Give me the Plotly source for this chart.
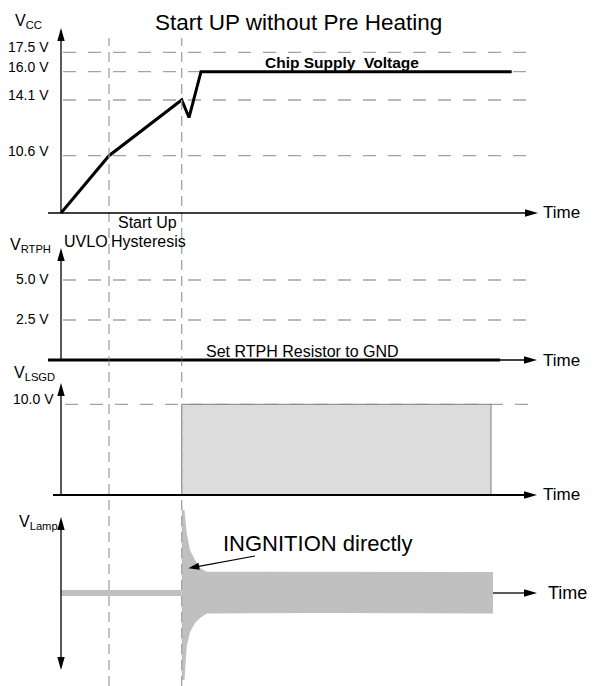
import numpy as np
import plotly.graph_objects as go

# The page body has an 8 px margin, so the figure is drawn 8 px smaller and
# all reference pixel positions are shifted by that margin.
PAGE_W, PAGE_H = 595, 686
OFF = 8
W, H = PAGE_W - OFF, PAGE_H - OFF
FONT = "Arial, Liberation Sans, sans-serif"

# ---------------- data ----------------
t_uvlo_end = 48.0       # end of UVLO phase (time, a.u.)
t_ignition = 120.7      # end of start-up hysteresis / ignition

vcc_t = [0, 48, 120.7, 128, 140, 450.7]
vcc_v = [0.0, 10.6, 14.1, 13.0, 16.0, 16.0]
vcc_levels = [10.6, 14.1, 16.0, 17.5]
vcc_level_labels = ["10.6 V", "14.1 V", "16.0 V", "17.5 V"]

rtph_t = [0, 439]
rtph_v = [0.0, 0.0]
rtph_levels = [2.5, 5.0]
rtph_level_labels = ["2.5 V", "5.0 V"]

lsgd_t = [0, 120.7, 120.7, 430, 430]
lsgd_v = [0.0, 0.0, 10.0, 10.0, 0.0]
lsgd_levels = [10.0]
lsgd_level_labels = ["10.0 V"]

lamp_pre_t = [0, 120.7]
lamp_pre_v = [0.0, 0.0]
lamp_env_t = [120.7, 123.5, 125.7, 129, 134, 139, 145.7, 260, 432]
lamp_env_upper = [83, 83, 60, 43, 33, 25, 21.3, 21, 21]
lamp_env_lower = [-87, -87, -54, -39, -30, -25, -20.5, -20, -20.5]

# schematic (non-linear) VCC axis scale: volts -> axis position
VCC_SCALE_V = [0.0, 10.6, 14.1, 16.0, 17.5]
VCC_SCALE_POS = [0.0, 57.3, 113.0, 141.3, 160.7]


def vcc_pos(v):
    return np.interp(v, VCC_SCALE_V, VCC_SCALE_POS)


def pxx(x):
    return (x - OFF) / W


def pxy(y):
    return 1 - (y - OFF) / H


GRAY_DASH = "#a3a3a3"
LAMP_GRAY = "#c0c0c0"

fig = go.Figure()

# ---------------- traces ----------------
fig.add_trace(go.Scatter(x=lsgd_t, y=lsgd_v, xaxis="x", yaxis="y3", mode="lines",
                         fill="toself", fillcolor="#dcdcdc",
                         line=dict(color="#7f7f7f", width=1), hoverinfo="skip"))
fig.add_trace(go.Scatter(x=vcc_t, y=vcc_pos(vcc_v), xaxis="x", yaxis="y", mode="lines",
                         line=dict(color="black", width=3), hoverinfo="skip"))
fig.add_trace(go.Scatter(x=rtph_t, y=rtph_v, xaxis="x", yaxis="y2", mode="lines",
                         line=dict(color="black", width=3), hoverinfo="skip"))
fig.add_trace(go.Scatter(x=lamp_pre_t, y=lamp_pre_v, xaxis="x", yaxis="y4", mode="lines",
                         line=dict(color=LAMP_GRAY, width=6), hoverinfo="skip"))
fig.add_trace(go.Scatter(x=lamp_env_t + lamp_env_t[::-1],
                         y=lamp_env_upper + lamp_env_lower[::-1],
                         xaxis="x", yaxis="y4", mode="lines", fill="toself",
                         fillcolor=LAMP_GRAY, line=dict(width=0, color=LAMP_GRAY),
                         hoverinfo="skip"))

shapes = []


def hdash(yref, y, x0=2, x1=471):
    shapes.append(dict(type="line", xref="x", yref=yref, x0=x0, x1=x1, y0=y, y1=y,
                       line=dict(color=GRAY_DASH, width=1.3, dash="13px,12px"),
                       layer="below"))


for v in vcc_levels:
    hdash("y", float(vcc_pos(v)))
for v in rtph_levels:
    hdash("y2", v, x1=469)
for v in lsgd_levels:
    hdash("y3", v, x0=4, x1=469)

# vertical event lines
for t in (t_uvlo_end, t_ignition):
    shapes.append(dict(type="line", xref="x", yref="paper", x0=t, x1=t,
                       y0=0, y1=pxy(38),
                       line=dict(color=GRAY_DASH, width=1.3, dash="10px,6px"),
                       layer="above"))


def axline(yref, x0, y0, x1, y1, w=1.3):
    shapes.append(dict(type="line", xref="x", yref=yref, x0=x0, x1=x1, y0=y0, y1=y1,
                       line=dict(color="black", width=w)))


def head(yref, x, y, angle_deg, length=13.0, half=3.7):
    """Filled arrowhead with its tip at (x, y); angle in screen degrees (0 = right, 90 = up)."""
    a = np.radians(angle_deg)
    ux, uy = np.cos(a), np.sin(a)
    nx, ny = -uy, ux
    bx, by = -length * ux, -length * uy
    p1 = (bx + half * nx, by + half * ny)
    p2 = (bx - half * nx, by - half * ny)
    path = "M0,0 L%.2f,%.2f L%.2f,%.2f Z" % (p1[0], p1[1], p2[0], p2[1])
    shapes.append(dict(type="path", xref="x", yref=yref, xsizemode="pixel",
                       ysizemode="pixel", xanchor=x, yanchor=y, path=path,
                       fillcolor="black", line=dict(width=0)))


# VCC axes
axline("y", -13, 0, 465, 0)
head("y", 477, 0, 0)
axline("y", 0, 0, 0, 173)
head("y", 0, 185, 90)
# RTPH axes
axline("y2", -13, 0, 465, 0, 1.3)
axline("y2", -13, 0, 0, 0, 3)
head("y2", 476, 0, 0)
axline("y2", 0, 0, 0, 6.2)
head("y2", 0, 7.0, 90)
# LSGD axes
axline("y3", -8, 0, 465, 0, 2)
head("y3", 476, 0, 0)
axline("y3", 0, 0, 0, 11.0)
head("y3", 0, 12.35, 90)
# Lamp axes
axline("y4", 0, -65, 0, 64)
head("y4", 0, 76, 90)
head("y4", 0, -77, -90)
axline("y4", 432, 0, 464, 0)
head("y4", 476, 0, 0)

# ignition pointer (lamp axis units are pixels)
ign_tip = (127.3, 24.7)
ign_tail = (194.0, 37.0)
axline("y4", ign_tail[0], ign_tail[1], ign_tip[0] + 9, ign_tip[1] + 1.7, 1.2)
head("y4", ign_tip[0], ign_tip[1],
     np.degrees(np.arctan2(ign_tip[1] - ign_tail[1], ign_tip[0] - ign_tail[0])),
     length=11, half=3.6)

# ---------------- text ----------------
ann = []


def text(x, y, s, size, xanchor="left", yanchor="middle", xref="paper", yref="paper",
         bold=False, yshift=0):
    ann.append(dict(x=x, y=y, xref=xref, yref=yref, text=("<b>%s</b>" % s) if bold else s,
                    showarrow=False, xanchor=xanchor, yanchor=yanchor, yshift=yshift,
                    font=dict(family=FONT, size=size, color="black")))


text(pxx(298), 1.0, "Start UP without Pre Heating", 22.5, xanchor="center", yanchor="top")

text(pxx(13), pxy(22), "V<sub>CC</sub>", 16)
text(pxx(8), pxy(245), "V<sub>RTPH</sub>", 16)
text(pxx(12), pxy(374), "V<sub>LSGD</sub>", 16)
text(pxx(17), pxy(522), "V<sub>Lamp</sub>", 16)

for v, lab in zip(vcc_levels, vcc_level_labels):
    text(pxx(51), float(vcc_pos(v)), lab, 14, xanchor="right", yref="y", yshift=5)
for v, lab in zip(rtph_levels, rtph_level_labels):
    text(pxx(51), v, lab, 14, xanchor="right", yref="y2", yshift=1.5)
for v, lab in zip(lsgd_levels, lsgd_level_labels):
    text(pxx(56), v, lab, 14, xanchor="right", yref="y3", yshift=5)

text(pxx(263), pxy(62), "Chip Supply  Voltage", 15.5, bold=True)
text(pxx(204), pxy(351), "Set RTPH Resistor to GND", 16)

text(pxx(62), pxy(241), "UVLO", 16)
text(pxx(116), pxy(223), "Start Up", 16)
text(pxx(109), pxy(241), "Hysteresis", 16)

for y in (212, 360, 494):
    text(pxx(541), pxy(y), "Time", 17)
text(pxx(546), pxy(593), "Time", 18)

text(pxx(221), pxy(543), "INGNITION directly", 22)

fig.update_layout(
    width=W, height=H, margin=dict(l=0, r=0, t=0, b=0),
    paper_bgcolor="white", plot_bgcolor="white", showlegend=False,
    shapes=shapes, annotations=ann,
    xaxis=dict(range=[OFF - 61, PAGE_W - 61], domain=[0, 1], visible=False, anchor="y",
               fixedrange=True),
    yaxis=dict(range=[-12, 190], domain=[pxy(225), pxy(23)], visible=False, anchor="x"),
    yaxis2=dict(range=[-0.75, 7.5], domain=[pxy(372), pxy(240)], visible=False, anchor="x"),
    yaxis3=dict(range=[-1.1025, 12.8997], domain=[pxy(505), pxy(378)], visible=False,
                anchor="x"),
    yaxis4=dict(range=[-93, 93], domain=[0, pxy(500)], visible=False, anchor="x"),
)

fig.write_html("out.html")
